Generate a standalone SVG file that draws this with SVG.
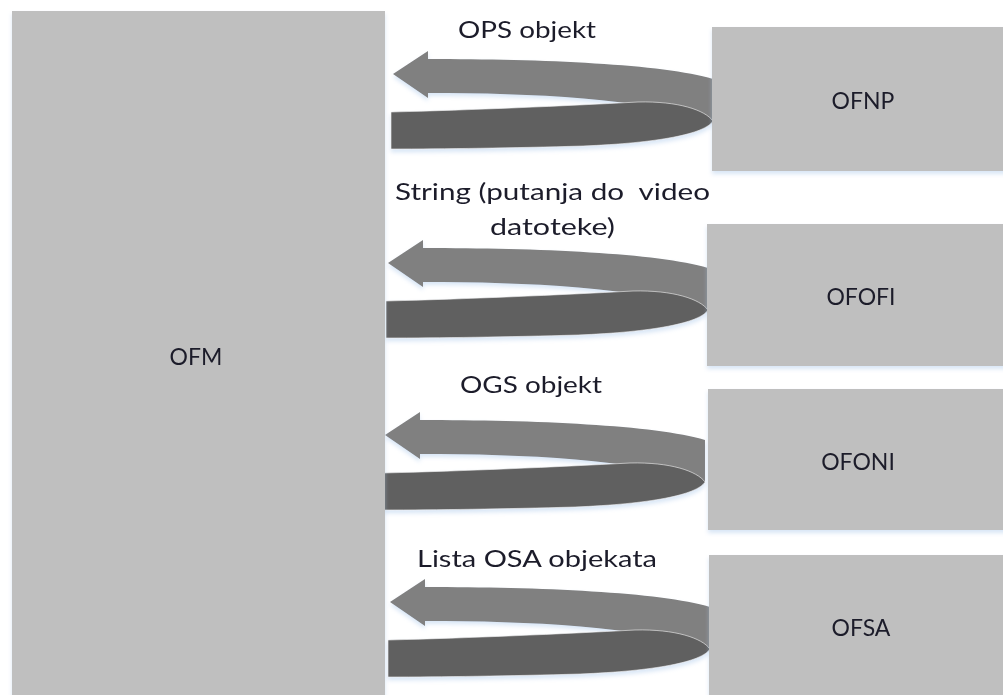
<svg xmlns="http://www.w3.org/2000/svg" width="1003" height="695" viewBox="0 0 1003 695">
<style>
.box{fill:#bfbfbf;filter:url(#sh)}
.t{font-family:Lato,"Open Sans","Liberation Sans",sans-serif;font-size:23px;fill:#1c1c2a}
.nl{text-anchor:middle}
.up{fill:#808080}
.lo{fill:#606060;stroke:#f4f4f4;stroke-width:0.6}
</style>
<defs>
<filter id="sh" x="-5%" y="-5%" width="110%" height="115%">
<feDropShadow dx="0" dy="3" stdDeviation="2" flood-color="#a9c8ea" flood-opacity="0.45"/>
</filter>
<g id="uturn">
<path class="up" d="M320,5 C270,-10 150,-15 35,-15 L35,-23 L0,0 L35,24 L35,19 C140,19 250,24 320,48 Z"/>
<path class="lo" d="M-2,38 C80,36 170,32 245,28 C285,27 312,36 320,47 C312,60 265,69 190,72 C120,74 50,75 -2,75 Z"/>
</g>
</defs>
<rect width="1003" height="695" fill="#ffffff"/>

<g id="connectors" filter="url(#sh)">
<use href="#uturn" transform="translate(393,74)"/>
<use href="#uturn" transform="translate(388,263)"/>
<use href="#uturn" transform="translate(385,435)"/>
<use href="#uturn" transform="translate(390,602)"/>
</g>

<g id="OFM">
<rect class="box" x="12" y="11" width="373" height="690"/>
<text class="t nl" x="196" y="365">OFM</text>
</g>
<g id="OFNP">
<rect class="box" x="712" y="27" width="300" height="144"/>
<text class="t nl" x="863" y="109">OFNP</text>
</g>
<g id="OFOFI">
<rect class="box" x="707" y="224" width="300" height="142"/>
<text class="t nl" x="861" y="305">OFOFI</text>
</g>
<g id="OFONI">
<rect class="box" x="708" y="389" width="300" height="141"/>
<text class="t nl" x="858" y="470">OFONI</text>
</g>
<g id="OFSA">
<rect class="box" x="709" y="555" width="300" height="150"/>
<text class="t nl" x="861" y="636">OFSA</text>
</g>

<g id="labels">
<text class="t" x="458" y="38" textLength="138" lengthAdjust="spacingAndGlyphs">OPS objekt</text>
<text class="t" x="395" y="200" textLength="315" lengthAdjust="spacingAndGlyphs" xml:space="preserve">String (putanja do  video</text>
<text class="t" x="490" y="235" textLength="125" lengthAdjust="spacingAndGlyphs">datoteke)</text>
<text class="t" x="460" y="393" textLength="142" lengthAdjust="spacingAndGlyphs">OGS objekt</text>
<text class="t" x="417" y="567" textLength="240" lengthAdjust="spacingAndGlyphs">Lista OSA objekata</text>
</g>
</svg>
